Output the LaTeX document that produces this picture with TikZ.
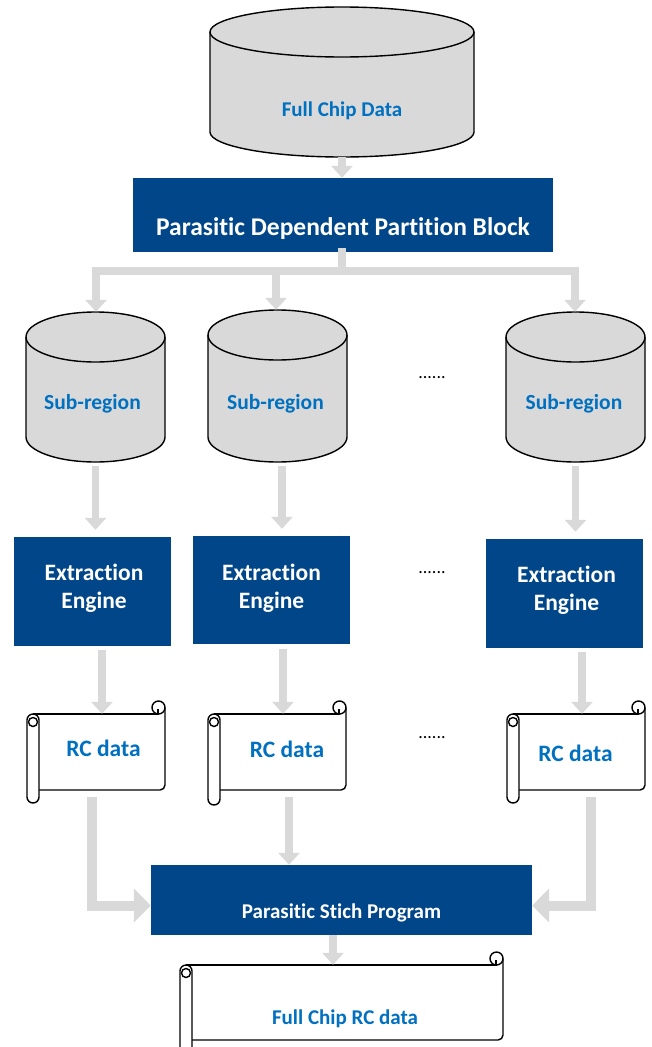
\documentclass[tikz,border=0pt]{standalone}
\usepackage{fontspec}
\setmainfont{Carlito}[Ligatures=NoCommon]
\usetikzlibrary{arrows.meta}

\definecolor{boxblue}{RGB}{0,70,137}
\definecolor{txtblue}{RGB}{0,112,192}
\definecolor{drumgray}{RGB}{217,217,217}
\definecolor{flowgray}{RGB}{217,217,217}

\tikzset{
  outline/.style={draw=black, line width=1.4pt},
  bluebox/.style={fill=boxblue, draw=none, inner sep=0pt},
  area/.style={draw=none, inner sep=0pt},
  lbl/.style={inner sep=0pt, text height=1.46em, text depth=0.18em},
  bluelbl/.style={lbl, text=txtblue, font=\bfseries\fontsize{#1}{#1}\selectfont},
  whitelbl/.style={lbl, text=white, font=\bfseries\fontsize{#1}{#1}\selectfont},
  twolines/.style={inner sep=0pt, text=white, align=center,
    font=\bfseries\fontsize{23.5}{28}\selectfont},
  dots/.style={inner sep=0pt, font=\fontsize{18}{18}\selectfont},
  flow/.style={draw=flowgray, line width=7.5pt, line cap=butt,
    -{Triangle[width=21pt,length=12pt]}},
  bigflow/.style={draw=flowgray, line width=10pt, line cap=butt,
    -{Triangle[width=33pt,length=17pt]}},
  bar/.style={draw=flowgray, line width=7.5pt, line cap=rect},
}

% drum (database) symbol: centre x, top, bottom, x radius, y radius
\newcommand\drum[5]{%
  \filldraw[outline, fill=drumgray]
    (#1-#4, #2+#5) -- (#1-#4, #3-#5)
    .. controls (#1-#4, #3-#5+0.5523*#5) and (#1-0.5523*#4, #3) .. (#1, #3)
    .. controls (#1+0.5523*#4, #3) and (#1+#4, #3-#5+0.5523*#5) .. (#1+#4, #3-#5)
    -- (#1+#4, #2+#5)
    .. controls (#1+#4, #2+#5-0.5523*#5) and (#1+0.5523*#4, #2) .. (#1, #2)
    .. controls (#1-0.5523*#4, #2) and (#1-#4, #2+#5-0.5523*#5) .. (#1-#4, #2+#5)
    -- cycle;
  \draw[outline]
    (#1-#4, #2+#5)
    .. controls (#1-#4, #2+#5+0.5523*#5) and (#1-0.5523*#4, #2+2*#5) .. (#1, #2+2*#5)
    .. controls (#1+0.5523*#4, #2+2*#5) and (#1+#4, #2+#5+0.5523*#5) .. (#1+#4, #2+#5);
}

% horizontal scroll: roll left, sheet top, right, sheet bottom, roll bottom
\newcommand\scrollsheet[5]{%
  \fill[white] (#1+12, #2) rectangle (#3, #4);
  \draw[outline] (#1+6, #2) -- (#3-6.5, #2);
  \draw[outline, rounded corners=5pt] (#3, #2-6.5) -- (#3, #4) -- (#1+12, #4);
  \filldraw[outline, fill=white] (#3-6.5, #2-6.5) circle (6.5);
  \draw[outline] (#3-7, #2-5) -- (#3-7, #2);
  \filldraw[outline, fill=white, rounded corners=6pt] (#1, #2) rectangle (#1+12, #5);
  \draw[outline] (#1+6, #2+8) circle (4.5);
}

\begin{document}
\begin{tikzpicture}[x=1pt, y=-1pt]
\useasboundingbox (0,0) rectangle (651,1047);
\clip (0,0) rectangle (651,1047);

% ---------- full chip database ----------
\drum{342}{7}{157}{132}{25}
\node[area, minimum width=264pt, minimum height=150pt] (fcd) at (342,82) {};
\node[bluelbl=21] (fcd-t) at (342,110) {Full Chip Data};

% ---------- partition block ----------
\node[bluebox, minimum width=420pt, minimum height=74pt] (pdpb) at (343,215) {};
\node[whitelbl=25.5] (pdpb-t) at (343,229) {Parasitic Dependent Partition Block};

% ---------- sub-regions ----------
\drum{95.5}{312}{462}{69.5}{25}
\drum{277.5}{310}{462}{69.5}{25}
\drum{575.5}{312}{462}{69.5}{25}
\node[area, minimum width=139pt, minimum height=150pt] (sr1) at (95.5,387) {};
\node[area, minimum width=139pt, minimum height=152pt] (sr2) at (277.5,386) {};
\node[area, minimum width=139pt, minimum height=150pt] (sr3) at (575.5,387) {};
\node[bluelbl=21.5] (sr1-t) at (92.5,403) {Sub-region};
\node[bluelbl=21.5] (sr2-t) at (275.5,403) {Sub-region};
\node[bluelbl=21.5] (sr3-t) at (574,403) {Sub-region};
\node[dots] (d1) at (432,378) {......};

% ---------- extraction engines ----------
\node[bluebox, minimum width=157pt, minimum height=109pt] (e1) at (92.5,591.5) {};
\node[bluebox, minimum width=157pt, minimum height=108pt] (e2) at (271.5,590) {};
\node[bluebox, minimum width=157pt, minimum height=109pt] (e3) at (564.5,593.5) {};
\node[twolines] (e1-t) at (94,588) {Extraction\\Engine};
\node[twolines] (e2-t) at (271.5,588) {Extraction\\Engine};
\node[twolines] (e3-t) at (566.5,590) {Extraction\\Engine};
\node[dots] (d2) at (432,573) {......};

% ---------- RC data scrolls ----------
\scrollsheet{27}{714}{165}{790}{803}
\scrollsheet{208}{714}{346}{790}{805}
\scrollsheet{507}{714}{645}{790}{803}
\node[area, minimum width=126pt, minimum height=76pt] (rc1) at (102,752) {};
\node[area, minimum width=126pt, minimum height=76pt] (rc2) at (283,752) {};
\node[area, minimum width=126pt, minimum height=76pt] (rc3) at (582,752) {};
\node[bluelbl=23.5] (rc1-t) at (103.5,750) {RC data};
\node[bluelbl=23.5] (rc2-t) at (287,751) {RC data};
\node[bluelbl=23.5] (rc3-t) at (575.5,755) {RC data};
\node[dots] (d3) at (432,738) {......};

% ---------- stitch program ----------
\node[bluebox, minimum width=381pt, minimum height=70pt] (stich) at (341.5,900) {};
\node[whitelbl=21] (stich-t) at (341.5,912) {Parasitic Stich Program};

% ---------- full chip RC data ----------
\scrollsheet{180}{965}{503}{1040}{1062}
\node[area, minimum width=310pt, minimum height=75pt] (fc) at (348,1002.5) {};
\node[bluelbl=21] (fc-t) at (345,1018) {Full Chip RC data};

% ---------- connectors ----------
\draw[flow] (fcd.south) -- (fcd.south |- pdpb.north);

\coordinate (bj) at (342,271);
\coordinate (bl) at (96,271);
\coordinate (bm) at (276,271);
\coordinate (br) at (575,271);
\draw[bar] (pdpb.south -| bj) -- (bj);
\draw[bar] (bl) -- (br);
\draw[flow] (bl) -- (bl |- sr1.north);
\draw[flow] (bm) -- (bm |- sr2.north);
\draw[flow] (br) -- (br |- sr3.north);

\draw[flow, shorten <=4pt, shorten >=7pt] (sr1.south) -- (sr1.south |- e1.north);
\draw[flow, shorten <=4pt, shorten >=7pt] ([xshift=4.5pt]sr2.south) -- ([xshift=4.5pt]sr2.south |- e2.north);
\draw[flow, shorten <=4pt, shorten >=7pt] (sr3.south) -- (sr3.south |- e3.north);

\draw[flow, shorten <=4pt] (rc1.north |- e1.south) -- (rc1.north);
\draw[flow, shorten <=5pt] (rc2.north |- e2.south) -- (rc2.north);
\draw[flow, shorten <=4pt] (rc3.north |- e3.south) -- (rc3.north);

\coordinate (l1) at (92,797);
\coordinate (m1) at (289,797);
\coordinate (r1) at (591,797);
\draw[bigflow] (l1) |- ([yshift=-5.5pt]stich.west);
\draw[flow] (m1) -- (m1 |- stich.north);
\draw[bigflow] (r1) |- ([yshift=-5.5pt]stich.east);

\draw[flow] ([xshift=-8.5pt]stich.south) -- ([xshift=-8.5pt]stich.south |- fc.north);
\end{tikzpicture}
\end{document}
